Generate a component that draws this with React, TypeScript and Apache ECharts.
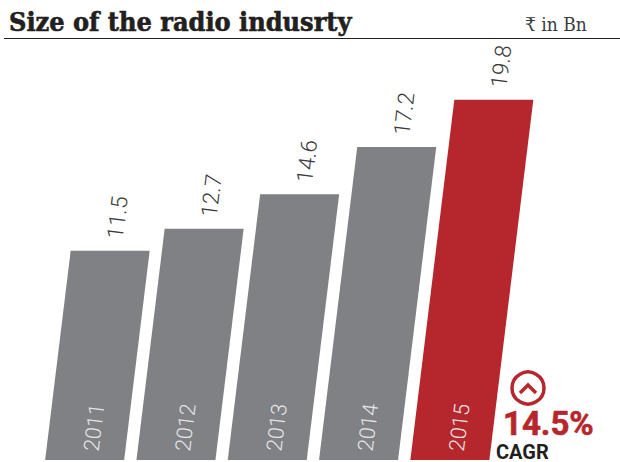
import React, { useEffect, useRef } from "react";
import * as echarts from "echarts";

const years = ["2011", "2012", "2013", "2014", "2015"];
const values = [11.5, 12.7, 14.6, 17.2, 19.8];
const barColors = ["#808184", "#808184", "#808184", "#808184", "#B6272D"];
const titleText = "Size of the radio indusrty";
const unitText = "₹ in Bn";
const cagrValue = "14.5%";
const cagrLabel = "CAGR";

const SHEAR = 0.122;
const BAR_W = 79;
const ROT = (83 * Math.PI) / 180;

export default function App() {
  const ref = useRef<HTMLDivElement>(null);
  useEffect(() => {
    const chart = echarts.init(ref.current!, undefined, { renderer: "svg" });
    chart.setOption({
      animation: false,
      backgroundColor: "#fff",
      grid: { left: 39.5, width: 456.5, top: 41.4, height: 418.6 },
      xAxis: { type: "category", data: years, show: false },
      yAxis: { type: "value", min: 0, max: 23, show: false },
      series: [
        {
          type: "custom",
          data: values.map((v, i) => [i, v]),
          encode: { x: 0, y: 1 },
          clip: false,
          renderItem: (params: any, api: any) => {
            const i = api.value(0);
            const v = api.value(1);
            const [cx, top] = api.coord([i, v]);
            const [, bottom] = api.coord([i, 0]);
            const xl = cx - 40;
            const off = (bottom - top) * SHEAR;
            const points = [
              [xl, bottom],
              [xl + BAR_W, bottom],
              [xl + BAR_W + off, top],
              [xl + off, top],
            ];
            return {
              type: "group",
              children: [
                {
                  type: "polygon",
                  shape: { points },
                  style: { fill: barColors[i] },
                },
                {
                  type: "text",
                  x: xl + off + 44,
                  y: top - 12,
                  rotation: ROT,
                  style: {
                    text: String(v),
                    fill: "#3a3a3c",
                    font: "300 22.5px Roboto",
                    textAlign: "left",
                    textVerticalAlign: "middle",
                  },
                },
                {
                  type: "text",
                  x: xl + 46,
                  y: bottom - 9,
                  rotation: ROT,
                  style: {
                    text: years[i],
                    fill: "#e6e6e7",
                    font: "300 21.5px Roboto",
                    textAlign: "left",
                    textVerticalAlign: "middle",
                  },
                },
              ],
            };
          },
        },
      ],
      graphic: [
        {
          type: "text",
          x: 9,
          y: 21,
          style: {
            text: titleText,
            fill: "#231f20",
            stroke: "#231f20",
            lineWidth: 0.6,
            font: "bold 26.8px 'DejaVu Serif Condensed'",
            textVerticalAlign: "middle",
          },
        },
        {
          type: "text",
          x: 525,
          y: 24,
          style: {
            text: unitText,
            fill: "#3a3a3c",
            font: "19px 'DejaVu Serif Condensed'",
            textVerticalAlign: "middle",
          },
        },
        {
          type: "line",
          shape: { x1: 4, y1: 38.5, x2: 620, y2: 38.5 },
          style: { stroke: "#231f20", lineWidth: 1 },
        },
        {
          type: "circle",
          shape: { cx: 528, cy: 388, r: 16 },
          style: { fill: "none", stroke: "#B6272D", lineWidth: 3.5 },
        },
        {
          type: "polyline",
          shape: { points: [[520, 393], [528, 385], [536, 393]] },
          style: { fill: "none", stroke: "#B6272D", lineWidth: 3.5 },
        },
        {
          type: "text",
          x: 503,
          y: 423,
          style: {
            text: cagrValue,
            fill: "#B6272D",
            stroke: "#B6272D",
            lineWidth: 0.6,
            font: "bold 33px Roboto",
            textVerticalAlign: "middle",
          },
        },
        {
          type: "text",
          x: 496,
          y: 451.5,
          style: {
            text: cagrLabel,
            fill: "#231f20",
            font: "bold 20px Roboto",
            textVerticalAlign: "middle",
          },
        },
      ],
    });
    return () => chart.dispose();
  }, []);
  return (
    <div
      ref={ref}
      style={{ position: "fixed", left: 0, top: 0, width: 620, height: 462 }}
    />
  );
}
